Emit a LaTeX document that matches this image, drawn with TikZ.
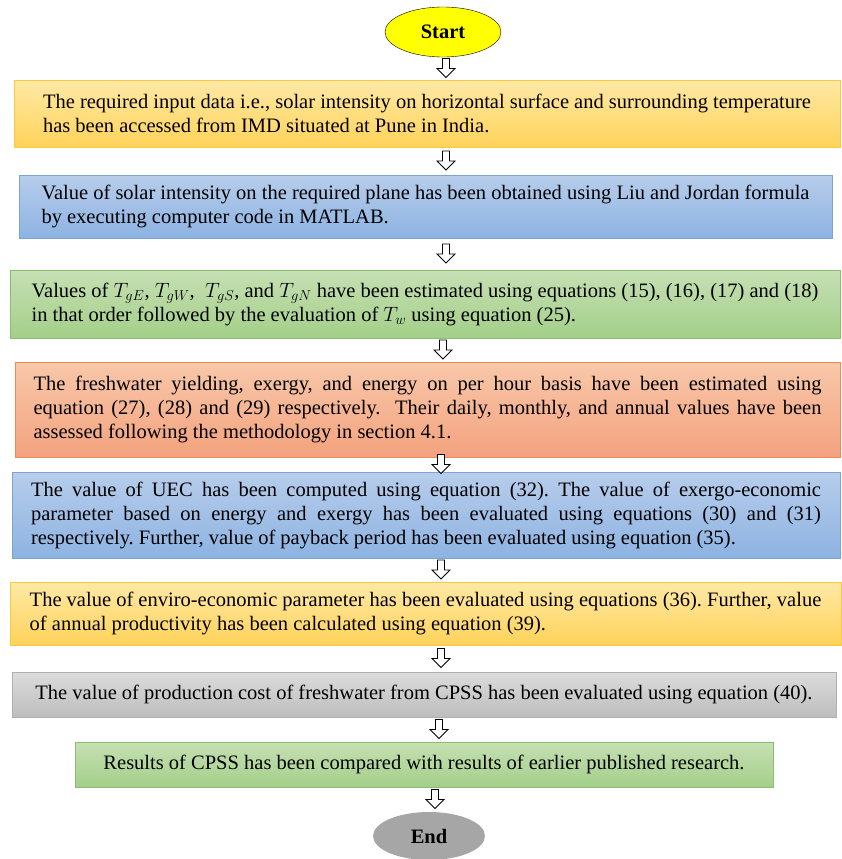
\documentclass[tikz,border=0pt]{standalone}
\usepackage{fontspec}
\setmainfont{Liberation Serif}
\usetikzlibrary{calc,shapes.geometric}
\frenchspacing

\definecolor{yellowtop}{HTML}{FFE9A6}
\definecolor{yellowbot}{HTML}{FFD35A}
\definecolor{yellowline}{HTML}{FFC83D}
\definecolor{bluetop}{HTML}{B7CDEB}
\definecolor{bluebot}{HTML}{8DB3E2}
\definecolor{blueline}{HTML}{7BA3D6}
\definecolor{greentop}{HTML}{C6E0B4}
\definecolor{greenbot}{HTML}{A3CF88}
\definecolor{greenline}{HTML}{8DBE6F}
\definecolor{salmontop}{HTML}{F8C8AA}
\definecolor{salmonbot}{HTML}{F4A27E}
\definecolor{salmonline}{HTML}{F08A50}
\definecolor{graytop}{HTML}{DCDCDC}
\definecolor{graybot}{HTML}{BDBDBD}
\definecolor{grayline}{HTML}{B0B0B0}
\definecolor{startyellow}{HTML}{FFFF00}
\definecolor{endgray}{HTML}{A6A6A6}

\tikzset{
  box/.style={rectangle, inner sep=0pt, align=left, font=\fontsize{20.5}{24}\selectfont},
  terminal/.style={ellipse, inner sep=0pt, minimum width=116pt, minimum height=50pt,
    font=\fontsize{20.5}{24}\selectfont\bfseries},
  yellowbox/.style={box, draw=yellowline, top color=yellowtop, bottom color=yellowbot},
  bluebox/.style={box, draw=blueline, top color=bluetop, bottom color=bluebot},
  greenbox/.style={box, draw=greenline, top color=greentop, bottom color=greenbot},
  salmonbox/.style={box, draw=salmonline, top color=salmontop, bottom color=salmonbot},
  graybox/.style={box, draw=grayline, top color=graytop, bottom color=graybot},
  flow/.style={draw=black, fill=white, line width=0.8pt, line join=miter}
}

% hollow down arrow, centred in the gap between two nodes
\newcommand{\flowarrow}[3]{%
  \draw[flow] let \p1=($(#1.south -| start)+(#3,0)$), \p2=(#2.north),
      \n1={(\y1+\y2)/2} in
    ({\x1-3.5pt},{\n1*1pt+10pt}) -- ({\x1+3.5pt},{\n1*1pt+10pt})
    -- ({\x1+3.5pt},{\n1*1pt}) -- ({\x1+9pt},{\n1*1pt})
    -- ({\x1},{\n1*1pt-9pt}) -- ({\x1-9pt},{\n1*1pt})
    -- ({\x1-3.5pt},{\n1*1pt}) -- cycle;}

\begin{document}
\begin{tikzpicture}[x=1pt, y=-1pt]
  \useasboundingbox (0,0) rectangle (842,859);

  \node[terminal, draw=black, fill=startyellow] (start) at (443,32) {Start};

  \node[yellowbox, minimum width=826pt, minimum height=67pt] (b1) at (427,113.5)
    {The required input data i.e., solar intensity on horizontal surface and surrounding temperature\\
     has been accessed from IMD situated at Pune in India.};

  \node[bluebox, minimum width=813pt, minimum height=63pt] (b2) at (425.5,206.5)
    {Value of solar intensity on the required plane has been obtained using Liu and Jordan formula\\
     by executing computer code in MATLAB.};

  \node[greenbox, minimum width=830pt, minimum height=68pt] (b3) at (425,304)
    {Values of $T_{gE}$, $T_{gW}$,\ \ $T_{gS}$, and $T_{gN}$ have been estimated using equations (15), (16), (17) and (18)\\
     in that order followed by the evaluation of $T_w$ using equation (25).};

  \node[salmonbox, minimum width=825pt, minimum height=95pt, text width=788pt, align=justify] (b4) at (427.5,409.5)
    {The freshwater yielding, exergy, and energy on per hour basis have been estimated using\linebreak
     equation (27), (28) and (29) respectively.\ \ Their daily, monthly, and annual values have been\linebreak
     assessed following the methodology in section 4.1.};

  \node[bluebox, minimum width=828pt, minimum height=86pt, text width=790pt, align=justify] (b5) at (426,515)
    {The value of UEC has been computed using equation (32). The value of exergo-economic\linebreak
     parameter based on energy and exergy has been evaluated using equations (30) and (31)\linebreak
     respectively. Further, value of payback period has been evaluated using equation (35).};

  \node[yellowbox, minimum width=831pt, minimum height=63pt] (b6) at (425.5,613.5)
    {The value of enviro-economic parameter has been evaluated using equations (36). Further, value\\
     of annual productivity has been calculated using equation (39).};

  \node[graybox, minimum width=824pt, minimum height=45pt] (b7) at (424,694.5)
    {The value of production cost of freshwater from CPSS has been evaluated using equation (40).};

  \node[greenbox, minimum width=698pt, minimum height=45pt] (b8) at (424,764.5)
    {Results of CPSS has been compared with results of earlier published research.};

  \node[terminal, fill=endgray, minimum width=112pt, minimum height=48pt] (end) at (429,836) {End};

  % connectors
  \foreach \a/\b/\dx in {start/b1/3, b1/b2/3, b2/b3/3, b3/b4/0, b4/b5/-2,
                         b5/b6/-2, b6/b7/-2, b7/b8/-4, b8/end/-8}
    \flowarrow{\a}{\b}{\dx};
\end{tikzpicture}
\end{document}
